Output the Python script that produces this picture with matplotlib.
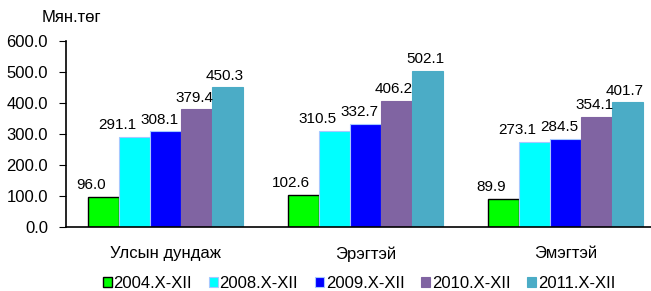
import numpy as np
import matplotlib.pyplot as plt

plt.rcParams['font.family'] = ['Liberation Sans', 'DejaVu Sans']

categories = ['Улсын дундаж', 'Эрэгтэй', 'Эмэгтэй']
series = ['2004.X-XII', '2008.X-XII', '2009.X-XII', '2010.X-XII', '2011.X-XII']
values = [
    [96.0, 102.6, 89.9],
    [291.1, 310.5, 273.1],
    [308.1, 332.7, 284.5],
    [379.4, 406.2, 354.1],
    [450.3, 502.1, 401.7],
]
colors = ['#00FF00', '#00FFFF', '#0000FF', '#8064A2', '#4BACC6']
edges = ['black', '#A6C8FF', '#A6C8FF', '#8064A2', '#4BACC6']
# horizontal nudge of the value labels (points), as in the original
label_dx = [-8.6, -12.0, -4.3, -1.4, -1.4]

fig = plt.figure(figsize=(6.51, 2.91), dpi=100)
ax = fig.add_axes([66/651, 64/291, 600/651, 186/291])

x = np.arange(len(categories))
w = 0.155
for i, (s, v) in enumerate(zip(series, values)):
    pos = x + (i - 2) * w - 0.005
    bars = ax.bar(pos, v, w, color=colors[i], edgecolor=edges[i],
                  linewidth=1.0 if i == 0 else 0.8, label=s)
    for b, val in zip(bars, v):
        ax.annotate(f'{val:.1f}', (b.get_x() + b.get_width() / 2, val),
                    xytext=(label_dx[i], 3.5), textcoords='offset points',
                    ha='center', va='bottom', fontsize=11)

ax.set_xlim(-0.5, 2.5)
ax.set_ylim(0, 600)
ax.set_yticks(np.arange(0, 601, 100))
ax.set_yticklabels([f'{t:.1f}' for t in np.arange(0, 601, 100)], fontsize=12)
ax.set_xticks(x)
ax.set_xticklabels(categories, fontsize=12)
ax.tick_params(axis='x', length=0, pad=14)
ax.tick_params(axis='y', length=5, direction='out', pad=8)
ax.spines['top'].set_visible(False)
ax.spines['right'].set_visible(False)
ax.spines['left'].set_linewidth(1.2)
ax.spines['bottom'].set_linewidth(1.2)

fig.text(42/651, 1 - 18/291, 'Мян.төг', fontsize=12, va='center', ha='left')

fig.legend(loc='center', bbox_to_anchor=(359/651, 1 - 283/291), ncol=5,
           frameon=False, fontsize=12, handlelength=0.55, handleheight=0.55,
           handletextpad=0.1, columnspacing=1.0)

fig.savefig('out.png', dpi=100)
